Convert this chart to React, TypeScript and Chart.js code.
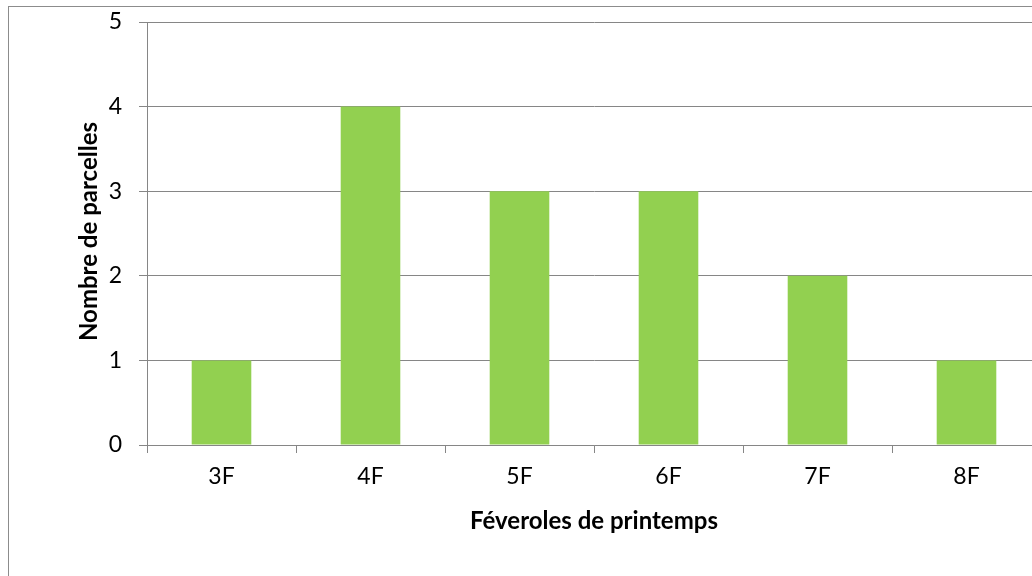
import React, { useEffect, useRef } from "react";
import { Chart, registerables } from "chart.js";

Chart.register(...registerables);

const categories = ["3F", "4F", "5F", "6F", "7F", "8F"];
const parcelles = [1, 4, 3, 3, 2, 1];
const yTicks = [0, 1, 2, 3, 4, 5];
const xTitle = "Féveroles de printemps";
const yTitle = "Nombre de parcelles";

const FONT = "Lato, 'Open Sans', sans-serif";
const GRID = "#868686";

const frame = {
  id: "frame",
  beforeDraw(chart: any) {
    const { ctx } = chart;
    ctx.save();
    ctx.fillStyle = "#ffffff";
    ctx.fillRect(0, 0, chart.width, chart.height);
    ctx.strokeStyle = "#8c8c8c";
    ctx.lineWidth = 1;
    ctx.strokeRect(8.5, 6.5, 3000, 3000);
    ctx.restore();
  },
  afterDraw(chart: any) {
    const { ctx, chartArea } = chart;
    ctx.save();
    ctx.fillStyle = "#000000";
    ctx.textAlign = "center";
    ctx.textBaseline = "middle";
    ctx.font = `bold 24px ${FONT}`;
    ctx.fillText(xTitle, (chartArea.left + chartArea.right) / 2, 521);
    ctx.translate(89, (chartArea.top + chartArea.bottom) / 2 - 2);
    ctx.rotate(-Math.PI / 2);
    ctx.fillText(yTitle, 0, 0);
    ctx.restore();
  },
};

export default function App() {
  const ref = useRef<HTMLCanvasElement | null>(null);
  useEffect(() => {
    if (!ref.current) return;
    const chart = new Chart(ref.current, {
      type: "bar",
      data: {
        labels: categories,
        datasets: [
          {
            data: parcelles,
            backgroundColor: "#92D050",
            borderWidth: 0,
            barPercentage: 0.4,
            categoryPercentage: 1,
          },
        ],
      },
      options: {
        responsive: false,
        animation: false,
        devicePixelRatio: 1,
        layout: { autoPadding: false, padding: { left: 0, top: 22, right: 9, bottom: 0 } },
        plugins: { legend: { display: false }, tooltip: { enabled: false } },
        scales: {
          x: {
            offset: true,
            grid: {
              offset: true,
              drawOnChartArea: false,
              drawTicks: true,
              tickLength: 8,
              color: GRID,
            },
            border: { display: true, color: GRID, width: 1 },
            ticks: {
              color: "#000",
              font: { family: FONT, size: 23 },
              padding: 10,
            },
            afterFit: (s: any) => {
              s.height = 576 - 445;
              s.paddingLeft = 0;
              s.paddingRight = 0;
            },
          },
          y: {
            min: yTicks[0],
            max: yTicks[yTicks.length - 1],
            afterBuildTicks: (s: any) => {
              s.ticks = yTicks.map((v) => ({ value: v }));
            },
            grid: { color: GRID, tickLength: 8, drawTicks: true },
            border: { display: true, color: GRID, width: 1 },
            ticks: {
              color: "#000",
              font: { family: FONT, size: 23 },
              padding: 17,
            },
            afterFit: (s: any) => {
              s.width = 147;
              s.paddingTop = 0;
              s.paddingBottom = 0;
            },
          },
        },
      },
      plugins: [frame],
    });
    return () => chart.destroy();
  }, []);
  return (
    <div
      style={{
        position: "fixed",
        left: 0,
        top: 0,
        width: "100vw",
        height: "100vh",
        overflow: "hidden",
        background: "#fff",
      }}
    >
      <canvas
        ref={ref}
        width={1050}
        height={576}
        style={{ position: "absolute", left: 0, top: 0, width: 1050, height: 576 }}
      />
    </div>
  );
}
